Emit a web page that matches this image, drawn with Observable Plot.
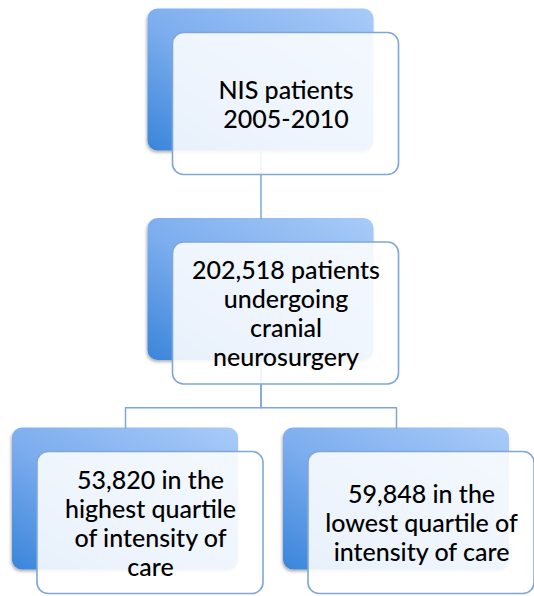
<!DOCTYPE html>
<html>
<head>
<meta charset="utf-8">
<script src="https://cdn.jsdelivr.net/npm/d3@7"></script>
<script src="https://cdn.jsdelivr.net/npm/@observablehq/plot@0.6"></script>
<style>
  html, body { margin: 0; padding: 0; background: #fff; }
  #chart svg { display: block; }
</style>
</head>
<body>
<div id="chart"></div>
<script>
// Flowchart content
const nodeLabels = [
  "NIS patients\n2005-2010",
  "202,518 patients\nundergoing\ncranial\nneurosurgery",
  "53,820 in the\nhighest quartile\nof intensity of\ncare",
  "59,848 in the\nlowest quartile of\nintensity of care"
];
const nodeLevel = [0, 1, 2, 2];
const nodeCol = [1, 1, 0, 2];
const nodeParent = [null, 0, 1, 1];

const nodes = nodeLabels.map((label, i) => ({
  label, level: nodeLevel[i], col: nodeCol[i], parent: nodeParent[i]
}));

// box half-sizes in scale units
const hw = 0.834, hh = 0.339, elbow = 0.7;

const links = [];
nodes.forEach((n, i) => {
  if (n.parent == null) return;
  const p = nodes[n.parent];
  const y0 = p.level + hh, y1 = n.level - hh;
  const ym = y0 + elbow * (y1 - y0);
  links.push({id: i, x: p.col, y: y0});
  links.push({id: i, x: p.col, y: ym});
  links.push({id: i, x: n.col, y: ym});
  links.push({id: i, x: n.col, y: y1});
});

const stroke = "#7ea7d8";

const plot = Plot.plot({
  width: 534,
  height: 596,
  margin: 0,
  x: {domain: [0, 2], range: [150, 421], axis: null},
  y: {domain: [0, 2], range: [103.5, 522.5], axis: null},
  marks: [
    Plot.rect(nodes, {
      x1: d => d.col - hw, x2: d => d.col + hw,
      y1: d => d.level - hh, y2: d => d.level + hh,
      dx: -25, dy: -24, rx: 10, ry: 10,
      fill: "#7cadee"
    }),
    Plot.line(links, {
      x: "x", y: "y", z: "id", dx: -25, dy: -24,
      stroke, strokeWidth: 1.5, curve: "linear"
    }),
    Plot.rect(nodes, {
      x1: d => d.col - hw, x2: d => d.col + hw,
      y1: d => d.level - hh, y2: d => d.level + hh,
      rx: 11, ry: 11,
      fill: "#ffffff", fillOpacity: 0.88,
      stroke, strokeWidth: 1.6
    }),
    Plot.text(nodes, {
      x: "col", y: "level", text: "label",
      fontSize: 25, lineHeight: 1.16, fill: "#000",
      fontWeight: 500,
      fontFamily: "Lato, 'Open Sans', sans-serif",
      textAnchor: "middle"
    })
  ]
});

const svg = d3.select(plot);
const defs = svg.insert("defs", ":first-child");
const g = defs.append("linearGradient")
  .attr("id", "backGrad")
  .attr("x1", "100%").attr("y1", "0%")
  .attr("x2", "0%").attr("y2", "100%");
g.append("stop").attr("offset", "0%").attr("stop-color", "#a9cbf8");
g.append("stop").attr("offset", "55%").attr("stop-color", "#7cadee");
g.append("stop").attr("offset", "100%").attr("stop-color", "#3a85da");
const f = defs.append("filter").attr("id", "shadow")
  .attr("x", "-10%").attr("y", "-10%").attr("width", "120%").attr("height", "125%");
f.append("feDropShadow").attr("dx", -1).attr("dy", 2)
  .attr("stdDeviation", 1.5).attr("flood-color", "#000").attr("flood-opacity", 0.3);

// apply gradient + shadow to the back boxes (first rect layer)
const back = d3.select(svg.selectAll('g[aria-label="rect"]').nodes()[0]);
back.attr("filter", "url(#shadow)");
back.attr("fill", "url(#backGrad)");
back.selectAll("rect").attr("fill", "url(#backGrad)");

document.getElementById("chart").appendChild(plot);
</script>
</body>
</html>
